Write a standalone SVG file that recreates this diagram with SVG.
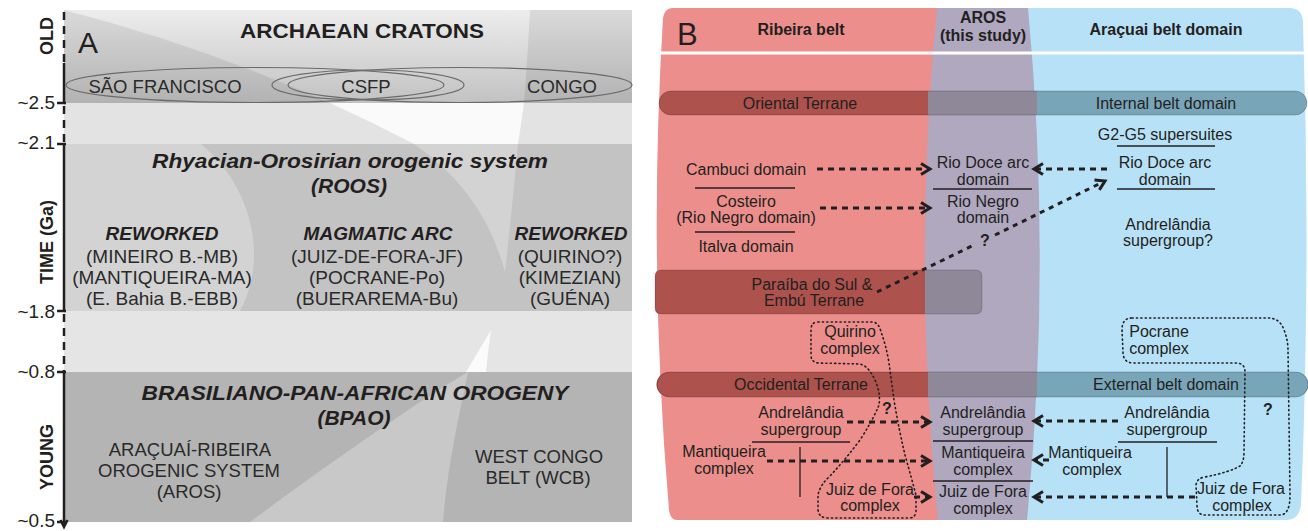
<svg xmlns="http://www.w3.org/2000/svg" width="1308" height="531" viewBox="0 0 1308 531">
<defs>
<style>
text{font-family:"Liberation Sans",Arial,sans-serif;fill:#231f20}
.n19{font-size:19px;text-anchor:middle;fill:#2a2a2a}
.n18{font-size:18.5px;text-anchor:middle;fill:#2a2a2a}
.bi{font-weight:bold;font-style:italic;text-anchor:middle}
.tk{font-size:19px;text-anchor:end}
.rot{font-size:18px;font-weight:bold;text-anchor:middle}
.t{font-size:16px;text-anchor:middle}
.hd{font-size:16px;font-weight:bold;text-anchor:middle}
.q{font-size:16px;font-weight:bold;text-anchor:middle}
.sep{stroke:#231f20;stroke-width:1.3;fill:none}
.dash{fill:none;stroke:#231f20;stroke-width:3;stroke-dasharray:6 5}
.dsh2{fill:none;stroke:#231f20;stroke-width:3;stroke-dasharray:5 5}
.dot{fill:none;stroke:#231f20;stroke-width:1.6;stroke-dasharray:1.2 3.2;stroke-linecap:round}
.ell{fill:none;stroke:#6b6b6b;stroke-width:1.2}
.ax{stroke:#231f20;stroke-width:2.5;fill:none}
.axd{stroke:#231f20;stroke-width:2.5;fill:none;stroke-dasharray:8 6}
.red{fill:#ad524d}
.mid{fill:#8f8899}
.teal{fill:#79a5b9}
</style>
<linearGradient id="arch" x1="0" y1="0" x2="0" y2="1">
<stop offset="0" stop-color="#ededed"/>
<stop offset="1" stop-color="#c2c2c2"/>
</linearGradient>
<marker id="chev" markerUnits="userSpaceOnUse" markerWidth="14" markerHeight="14" refX="11" refY="7" orient="auto">
<path d="M2,1.5 L11,7 L2,12.5" fill="none" stroke="#231f20" stroke-width="3"/>
</marker>
<clipPath id="clipA"><rect x="64" y="10" width="568" height="512"/></clipPath>
</defs>

<!-- PANEL A -->
<g id="panelA-background" clip-path="url(#clipA)">
<rect x="64" y="10" width="568" height="93" fill="url(#arch)"/>
<rect x="64" y="103" width="568" height="41" fill="#e3e3e3"/>
<rect x="64" y="144" width="568" height="167" fill="#c3c3c3"/>
<rect x="64" y="311" width="568" height="61" fill="#e5e5e5"/>
<rect x="64" y="372" width="568" height="150" fill="#b4b4b4"/>
<path d="M64,10 Q200,45 330,103 L64,103 Z" fill="#000" opacity="0.08"/>
<path d="M530,10 L632,10 L632,103 L524,103 Q528,50 530,10 Z" fill="#000" opacity="0.08"/>
<path d="M330,103 L524,103 Q521,125 518,144 L414,144 Q372,122 330,103 Z" fill="#fafafa"/>
<path d="M64,144 L201,144 C245,180 272,250 240,311 L64,311 Z" fill="#d3d3d3"/>
<path d="M414,144 L518,144 Q512,210 505,272 Q484,192 414,144 Z" fill="#d3d3d3"/>
<path d="M491,330 Q478,352 466,372 L486,372 Q488,350 491,330 Z" fill="#fbfbfb"/>
<path d="M250,522 C320,470 420,400 468,372 C458,420 447,470 443,522 Z" fill="#c8c8c8"/>
</g>

<g id="cratons">
<ellipse class="ell" cx="255" cy="85" rx="189" ry="17.5"/>
<ellipse class="ell" cx="460" cy="85" rx="172" ry="17.5"/>
<ellipse class="ell" cx="368" cy="85" rx="96" ry="15"/>
<text x="78" y="53" font-size="30">A</text>
<text x="362" y="38" font-size="20" font-weight="bold" text-anchor="middle" textLength="244" lengthAdjust="spacingAndGlyphs">ARCHAEAN CRATONS</text>
<text class="n18" x="165" y="93">SÃO FRANCISCO</text>
<text class="n18" x="366" y="93">CSFP</text>
<text class="n18" x="562" y="93">CONGO</text>
</g>

<g id="roos">
<text class="bi" x="350" y="168" font-size="21" textLength="396" lengthAdjust="spacingAndGlyphs">Rhyacian-Orosirian orogenic system</text>
<text class="bi" x="349" y="193" font-size="21">(ROOS)</text>
<text class="bi" x="162" y="240" font-size="19">REWORKED</text>
<text class="n19" x="162" y="263">(MINEIRO B.-MB)</text>
<text class="n19" x="162" y="284">(MANTIQUEIRA-MA)</text>
<text class="n19" x="162" y="305">(E. Bahia B.-EBB)</text>
<text class="bi" x="378" y="240" font-size="19">MAGMATIC ARC</text>
<text class="n19" x="377" y="263">(JUIZ-DE-FORA-JF)</text>
<text class="n19" x="377" y="284">(POCRANE-Po)</text>
<text class="n19" x="377" y="305">(BUERAREMA-Bu)</text>
<text class="bi" x="571" y="240" font-size="19">REWORKED</text>
<text class="n19" x="570" y="263">(QUIRINO?)</text>
<text class="n19" x="570" y="284">(KIMEZIAN)</text>
<text class="n19" x="570" y="305">(GUÉNA)</text>
</g>

<g id="bpao">
<text class="bi" x="355" y="400" font-size="21" textLength="427" lengthAdjust="spacingAndGlyphs">BRASILIANO-PAN-AFRICAN OROGENY</text>
<text class="bi" x="354" y="425" font-size="21">(BPAO)</text>
<text class="n18" x="190" y="456">ARAÇUAÍ-RIBEIRA</text>
<text class="n18" x="189" y="477">OROGENIC SYSTEM</text>
<text class="n18" x="189" y="498">(AROS)</text>
<text class="n18" x="539" y="463">WEST CONGO</text>
<text class="n18" x="538" y="484">BELT (WCB)</text>
</g>

<g id="time-axis">
<line class="axd" x1="64" y1="12" x2="64" y2="63"/>
<line class="ax" x1="64" y1="63" x2="64" y2="103"/>
<line class="axd" x1="64" y1="106" x2="64" y2="144"/>
<line class="ax" x1="64" y1="144" x2="64" y2="311"/>
<line class="axd" x1="64" y1="314" x2="64" y2="372"/>
<line class="ax" x1="64" y1="372" x2="64" y2="526"/>
<path class="ax" d="M60.5,520 L64,527 L67.5,520" stroke-width="2"/>
<path class="ax" d="M57,103 H66 M57,144 H66 M57,311 H66 M57,372 H66 M57,522 H66" stroke-width="2"/>
<text class="tk" x="55" y="109">~2.5</text>
<text class="tk" x="55" y="149">~2.1</text>
<text class="tk" x="55" y="318">~1.8</text>
<text class="tk" x="55" y="378">~0.8</text>
<text class="tk" x="55" y="527">~0.5</text>
<text class="rot" transform="translate(53,36) rotate(-90)">OLD</text>
<text class="rot" transform="translate(53,242) rotate(-90)">TIME (Ga)</text>
<text class="rot" transform="translate(53,457) rotate(-90)">YOUNG</text>
</g>

<!-- PANEL B -->
<g id="panelB-background">
<path d="M672,8 L940,8 L940,520 L676,520 Q670,519 669,510 Q648,264 663,18 Q665,8 672,8 Z" fill="#ec8f8c"/>
<path d="M1020,8 L1290,8 Q1302,8 1303,22 Q1311,264 1301,505 Q1299,520 1286,520 L1020,520 Z" fill="#b7e1f7"/>
<path d="M937,8 L1028,8 Q1052,264 1027,520 L938,520 Q912,264 937,8 Z" fill="#afa8bf"/>
<line x1="656" y1="53" x2="1308" y2="53" stroke="#ffffff" stroke-width="3"/>
</g>

<g id="headers">
<text x="677" y="45" font-size="31">B</text>
<text class="hd" x="801" y="35">Ribeira belt</text>
<text class="hd" x="983" y="23">AROS</text>
<text class="hd" x="983" y="41">(this study)</text>
<text class="hd" x="1166" y="35">Araçuai belt domain</text>
</g>

<g id="band-oriental-internal">
<path class="red" d="M928,91 L671,91 A12,12 0 0 0 671,115 L928,115 Z"/>
<rect class="mid" x="928" y="91" width="109" height="24"/>
<path class="teal" d="M1037,91 L1295,91 A12,12 0 0 1 1295,115 L1037,115 Z"/>
<rect x="659" y="91" width="648" height="24" rx="12" fill="none" stroke="#000" stroke-opacity="0.2" stroke-width="1"/>
<text class="t" x="800" y="109">Oriental Terrane</text>
<text class="t" x="1166" y="109">Internal belt domain</text>
</g>

<g id="band-paraiba">
<path class="red" d="M925,270 L661,270 Q655,270 655,276 L655,308 Q655,314 661,314 L925,314 Z"/>
<path class="mid" d="M925,270 L976,270 Q982,270 982,276 L982,308 Q982,314 976,314 L925,314 Z"/>
<rect x="655" y="270" width="327" height="44" rx="6" fill="none" stroke="#000" stroke-opacity="0.15" stroke-width="1"/>
<text class="t" x="812" y="290">Paraíba do Sul &amp;</text>
<text class="t" x="814" y="306">Embú Terrane</text>
</g>

<g id="band-occidental-external">
<path class="red" d="M928,372 L669,372 A12.5,12.5 0 0 0 669,397 L928,397 Z"/>
<rect class="mid" x="928" y="372" width="109" height="25"/>
<path class="teal" d="M1037,372 L1296,372 A12.5,12.5 0 0 1 1296,397 L1037,397 Z"/>
<rect x="657" y="372" width="651" height="25" rx="12.5" fill="none" stroke="#000" stroke-opacity="0.2" stroke-width="1"/>
<text class="t" x="801" y="390">Occidental Terrane</text>
<text class="t" x="1166" y="390">External belt domain</text>
</g>

<g id="ribeira-upper">
<text class="t" x="746" y="175">Cambuci domain</text>
<line class="sep" x1="695" y1="188" x2="795" y2="188"/>
<text class="t" x="746" y="207">Costeiro</text>
<text class="t" x="746" y="223">(Rio Negro domain)</text>
<line class="sep" x1="695" y1="232" x2="795" y2="232"/>
<text class="t" x="746" y="252">Italva domain</text>
</g>

<g id="aros-upper">
<text class="t" x="983" y="168">Rio Doce arc</text>
<text class="t" x="983" y="185">domain</text>
<line class="sep" x1="933" y1="189" x2="1032" y2="189"/>
<text class="t" x="983" y="207">Rio Negro</text>
<text class="t" x="983" y="223">domain</text>
</g>

<g id="aracuai-upper">
<text class="t" x="1165" y="140">G2-G5 supersuites</text>
<line class="sep" x1="1117" y1="146" x2="1215" y2="146"/>
<text class="t" x="1165" y="168">Rio Doce arc</text>
<text class="t" x="1165" y="185">domain</text>
<line class="sep" x1="1117" y1="189" x2="1215" y2="189"/>
<text class="t" x="1168" y="230">Andrelândia</text>
<text class="t" x="1168" y="246">supergroup?</text>
</g>

<g id="quirino">
<path class="dot" d="M818,322 L873,322 Q879,323 881,332 Q886,345 889,363 L894,400 Q899,430 905,455 Q912,480 916,495 L916,512 Q915,518 909,518 L828,518 Q819,518 818,510 L818,495 Q820,485 830,476 Q845,460 860,440 Q873,420 879,405 Q881,392 874,378 Q868,366 860,364 L818,363 Q811,362 811,355 L811,330 Q811,322 818,322 Z"/>
<text class="t" x="850" y="337">Quirino</text>
<text class="t" x="850" y="354">complex</text>
<text class="q" x="887" y="414">?</text>
</g>

<g id="pocrane">
<path class="dot" d="M1132,318 L1268,318 Q1280,318 1284,330 Q1288,340 1288,350 L1290,495 Q1290,515 1280,515 L1205,515 Q1197,515 1197,505 L1196,485 Q1197,478 1205,477 Q1230,472 1240,466 Q1244,462 1244,452 L1245,372 Q1245,363 1236,363 L1134,363 Q1123,363 1123,352 L1122,330 Q1122,318 1132,318 Z"/>
<text class="t" x="1159" y="337">Pocrane</text>
<text class="t" x="1159" y="354">complex</text>
<text class="q" x="1268" y="415">?</text>
</g>

<g id="ribeira-lower">
<text class="t" x="801" y="418">Andrelândia</text>
<text class="t" x="801" y="435">supergroup</text>
<line class="sep" x1="752" y1="442" x2="850" y2="442"/>
<text class="t" x="724" y="457">Mantiqueira</text>
<text class="t" x="724" y="474">complex</text>
<line class="sep" x1="800" y1="447" x2="800" y2="497"/>
<text class="t" x="870" y="495">Juiz de Fora</text>
<text class="t" x="870" y="511">complex</text>
</g>

<g id="aros-lower">
<text class="t" x="983" y="418">Andrelândia</text>
<text class="t" x="983" y="435">supergroup</text>
<line class="sep" x1="933" y1="441" x2="1033" y2="441"/>
<text class="t" x="983" y="458">Mantiqueira</text>
<text class="t" x="983" y="475">complex</text>
<line class="sep" x1="933" y1="481" x2="1033" y2="481"/>
<text class="t" x="983" y="497">Juiz de Fora</text>
<text class="t" x="983" y="514">complex</text>
</g>

<g id="aracuai-lower">
<text class="t" x="1167" y="418">Andrelândia</text>
<text class="t" x="1167" y="435">supergroup</text>
<line class="sep" x1="1118" y1="442" x2="1217" y2="442"/>
<text class="t" x="1090" y="458">Mantiqueira</text>
<text class="t" x="1092" y="475">complex</text>
<line class="sep" x1="1167" y1="447" x2="1167" y2="497"/>
<text class="t" x="1241" y="494">Juiz de Fora</text>
<text class="t" x="1242" y="511">complex</text>
</g>

<g id="connectors">
<line class="dash" x1="817" y1="169" x2="930" y2="169" marker-end="url(#chev)"/>
<line class="dash" x1="820" y1="208" x2="930" y2="208" marker-end="url(#chev)"/>
<line class="dash" x1="1107" y1="169" x2="1034" y2="169" marker-end="url(#chev)"/>
<line class="dsh2" x1="877" y1="292" x2="974" y2="245"/>
<line class="dsh2" x1="995" y1="235" x2="1105" y2="181" marker-end="url(#chev)"/>
<text class="q" x="985" y="246">?</text>
<line class="dash" x1="847" y1="422" x2="930" y2="422" marker-end="url(#chev)"/>
<line class="dash" x1="767" y1="461" x2="930" y2="461" marker-end="url(#chev)"/>
<line class="dash" x1="914" y1="497" x2="930" y2="497" marker-end="url(#chev)"/>
<line class="dash" x1="1118" y1="421" x2="1034" y2="421" marker-end="url(#chev)"/>
<line class="dash" x1="1049" y1="460" x2="1034" y2="460" marker-end="url(#chev)"/>
<line class="dash" x1="1195" y1="497" x2="1034" y2="497" marker-end="url(#chev)"/>
</g>
</svg>
